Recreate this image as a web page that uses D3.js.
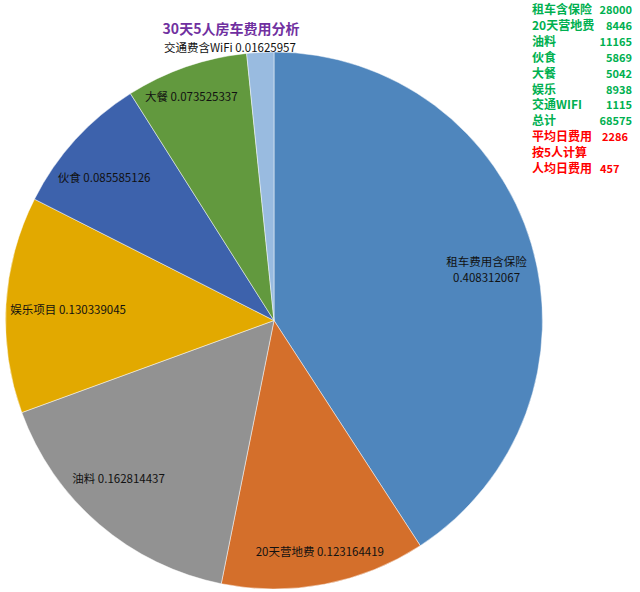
<!DOCTYPE html>
<html><head><meta charset="utf-8">
<script src="https://cdn.jsdelivr.net/npm/d3@7"></script>
<style>body{margin:0;background:#fff;}svg{display:block;}</style>
</head><body>
<svg id="c" width="640" height="592"></svg>
<script>
const categories = ["租车费用含保险","20天营地费","油料","娱乐项目","伙食","大餐","交通费含WiFi"];
const shares = [0.408312067,0.123164419,0.162814437,0.130339045,0.085585126,0.073525337,0.01625957];
const colors = ["#4F86BD","#D46F2B","#929292","#E2A900","#3D62AC","#62993E","#99BBE0"];
const legendLabels = ["租车含保险","20天营地费","油料","伙食","大餐","娱乐","交通WIFI","总计"];
const legendValues = [28000,8446,11165,5869,5042,8938,1115,68575];
const summaryLabels = ["平均日费用","按5人计算","人均日费用"];
const summaryValues = [2286,null,457];
const title = "30天5人房车费用分析";

const svg = d3.select("#c");
const cx = 274, cy = 320.5, r = 268.5;
const font = "'Noto Sans CJK SC','Noto Sans',sans-serif";

const pie = d3.pie().sort(null).value(d => d.v);
const data = pie(categories.map((c,i)=>({c, v: shares[i], col: colors[i]})));
const arc = d3.arc().innerRadius(0).outerRadius(r);
const g = svg.append("g").attr("transform",`translate(${cx},${cy})`);
g.selectAll("path").data(data).join("path")
  .attr("d", arc).attr("fill", d => d.data.col)
  .attr("stroke","#fff").attr("stroke-opacity",0.6).attr("stroke-width",0.8);

// label placement: relative radius factor and small nudge per slice
const labelRadius = [0.81, 0.868, 0.826, 0.768, 0.83, 0.885, 1.03];
const labelNudge = [[4,11],[2,3],[-11,-10],[0,2],[-5,7],[-5,1],[-30,4]];
data.forEach((d,i) => {
  const a = (d.startAngle + d.endAngle)/2;
  const rr = r*labelRadius[i];
  const x = Math.sin(a)*rr + labelNudge[i][0], y = -Math.cos(a)*rr + labelNudge[i][1];
  const t = g.append("text").attr("text-anchor","middle")
    .attr("font-family",font).attr("font-size",11.5).attr("fill","#111");
  if (i === 0) {
    t.append("tspan").attr("x",x).attr("y",y-4).text(categories[i]);
    t.append("tspan").attr("x",x).attr("y",y+12).text(shares[i]);
  } else {
    t.attr("x",x).attr("y",y+4).text(categories[i]+" "+shares[i]);
  }
});

svg.append("text").attr("x",231).attr("y",34).attr("text-anchor","middle")
  .attr("font-family",font).attr("font-size",14).attr("font-weight","bold")
  .attr("fill","#7030A0").text(title);

const ly = d3.scalePoint().domain(d3.range(legendLabels.length + summaryLabels.length)).range([10,169]);
legendLabels.forEach((l,i)=>{
  svg.append("text").attr("x",532).attr("y",ly(i)+4).attr("font-family",font)
    .attr("font-size",12).attr("font-weight","bold").attr("fill","#00B050").text(l);
  svg.append("text").attr("x",632).attr("y",ly(i)+4).attr("text-anchor","end").attr("font-family",font)
    .attr("font-size",11).attr("font-weight","bold").attr("fill","#00B050").text(legendValues[i]);
});
summaryLabels.forEach((l,j)=>{
  const i = legendLabels.length + j;
  svg.append("text").attr("x",532).attr("y",ly(i)+4).attr("font-family",font)
    .attr("font-size",12).attr("font-weight","bold").attr("fill","#FF0000").text(l);
  if (summaryValues[j] !== null)
    svg.append("text").attr("x",j===0?602:600).attr("y",ly(i)+4).attr("font-family",font)
      .attr("font-size",11).attr("font-weight","bold").attr("fill","#FF0000").text(summaryValues[j]);
});
</script>
</body></html>
